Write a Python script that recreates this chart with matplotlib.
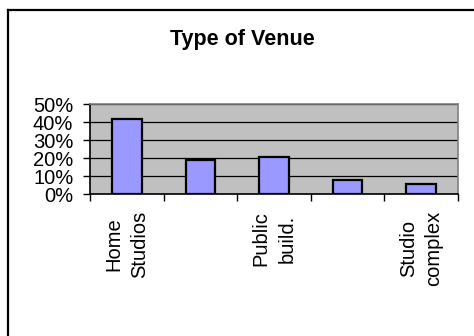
import numpy as np
import matplotlib
matplotlib.use("Agg")
import matplotlib.pyplot as plt
from matplotlib.lines import Line2D

plt.rcParams['font.family'] = ['Liberation Sans', 'DejaVu Sans']

# venue types, only every other one carries a label on the axis
venues = ["Home\nStudios", "", "Public\nbuild.", "", "Studio\ncomplex"]
shares = [42, 19, 21, 8, 6]
yticks = [0, 10, 20, 30, 40, 50]
ytick_labels = ["0%", "10%", "20%", "30%", "40%", "50%"]

W, H = 474, 336
fig = plt.figure(figsize=(W / 100, H / 100), dpi=100)
fig.patch.set_facecolor("white")

ax = fig.add_axes([90 / W, (H - 194.3) / H, 368 / W, 90 / H])
ax.set_facecolor("#c0c0c0")

x = np.arange(len(shares))
ax.bar(x, shares, width=0.4, color="#9999ff", edgecolor="black",
       linewidth=1.6, zorder=3)

ax.set_xlim(-0.5, len(shares) - 0.5)
ax.set_ylim(0, 50)
ax.set_yticks(yticks)
ax.set_yticklabels(ytick_labels, fontsize=14.5)
ax.yaxis.grid(True, color="black", linewidth=0.9, zorder=1)
ax.set_axisbelow(True)

# category labels on centres, tick marks on the boundaries
ax.set_xticks(x)
ax.set_xticklabels(venues, rotation=90, fontsize=14.5, va="top",
                   ha="center", multialignment="center", linespacing=1.45)
ax.tick_params(axis="x", which="major", length=0, pad=12)
ax.set_xticks(np.arange(-0.5, len(shares)), minor=True)
ax.tick_params(axis="x", which="minor", length=5, width=1, color="black")
ax.tick_params(axis="y", length=5, width=1, color="black", pad=7)

for s in ("left", "bottom"):
    ax.spines[s].set_color("black")
    ax.spines[s].set_linewidth(1.2)
for s in ("top", "right"):
    ax.spines[s].set_color("#808080")
    ax.spines[s].set_linewidth(1.2)

fig.text(242 / W, 1 - 40 / H, "Type of Venue", fontsize=15.5,
         fontweight="bold", ha="center", va="center")

# chart frame: only top and left edges fall inside the image
fig.add_artist(Line2D([7.5 / W, 1], [1 - 10 / H, 1 - 10 / H],
                      transform=fig.transFigure, color="black", linewidth=1.6))
fig.add_artist(Line2D([7.5 / W, 7.5 / W], [0, 1 - 10 / H],
                      transform=fig.transFigure, color="black", linewidth=1.6))

fig.savefig("out.png", dpi=100)
